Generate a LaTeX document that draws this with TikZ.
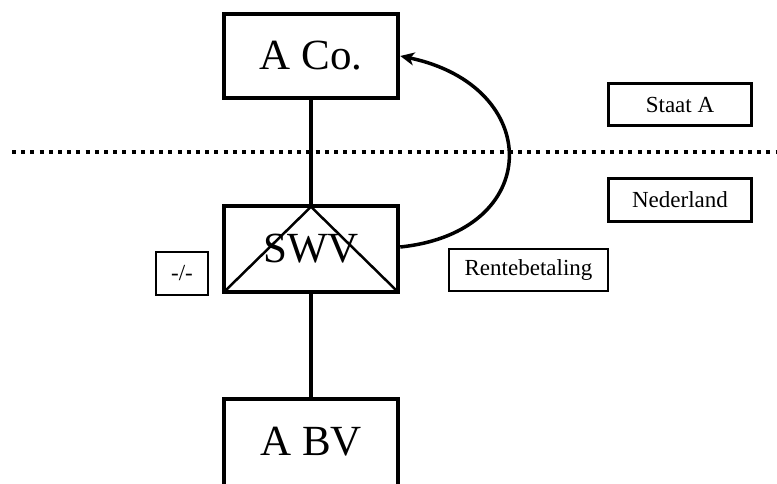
\documentclass[tikz,border=0pt]{standalone}
\usepackage{fontspec}
\setmainfont{Liberation Serif}
\usetikzlibrary{arrows.meta,calc}
\begin{document}
\begin{tikzpicture}[x=1pt,y=-1pt,
  bigbox/.style={draw, line width=4.5pt, minimum width=174pt, minimum height=84pt,
    inner sep=0pt, font=\fontsize{43}{50}\selectfont},
  tagbox/.style={draw, line width=3pt, minimum width=143pt, minimum height=42pt,
    inner sep=0pt, font=\fontsize{23}{27}\selectfont},
  notebox/.style={draw, line width=2pt, minimum height=42pt,
    inner sep=0pt, font=\fontsize{23}{27}\selectfont},
  link/.style={line width=3.5pt},
  border/.style={line width=4pt, dash pattern=on 4pt off 5.2pt}]
\useasboundingbox (0,0) rectangle (777,484);

% border between the two countries
\coordinate (bl) at (12,152);
\coordinate (br) at (780,152);
\draw[border] (bl) -- (br);

% entities
\node[bigbox] (aco) at (311,56) {A Co.};
\node[bigbox, minimum height=86pt] (swv) at (311,249) {SWV};
\node[bigbox, minimum height=92pt] (abv) at (311,445) {\raisebox{8pt}{A BV}};

% triangle marking the partnership
\draw[line width=2.5pt, line join=miter]
  ($(swv.south west)+(3,-3)$) -- ($(swv.north)+(0,3)$) -- ($(swv.south east)+(-3,-3)$);

% ownership lines
\draw[link] (aco) -- (swv);
\draw[link] (swv) -- (abv);

% interest payment
\draw[line width=3.5pt, -{Stealth[length=14pt,width=13pt,inset=4pt]}]
  ($(swv.east)+(0,-2)$) .. controls +(144,-15) and +(144,30) .. (aco.east);

% labels
\node[tagbox] (staat) at (680,104.5) {Staat A};
\node[tagbox, minimum height=43pt] (nl) at (680,200) {Nederland};
\node[notebox, minimum width=159pt] (rente) at (528.5,270) {Rentebetaling};
\node[notebox, minimum width=52pt, minimum height=43pt] (neg) at (182,273.5) {-/-};
\end{tikzpicture}
\end{document}
